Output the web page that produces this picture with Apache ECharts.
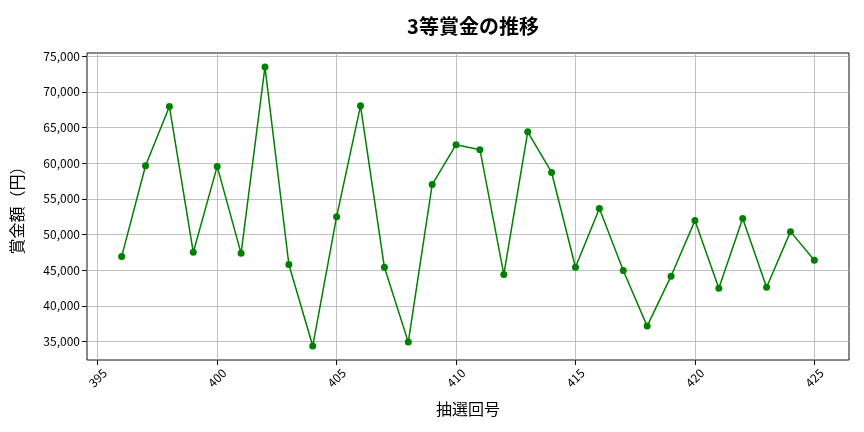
<!DOCTYPE html>
<html>
<head>
<meta charset="utf-8">
<script src="https://cdn.jsdelivr.net/npm/echarts@6/dist/echarts.min.js"></script>
<style>html,body{margin:0;padding:0;background:#fff;}#c{width:864px;height:432px;}</style>
</head>
<body>
<div id="c"></div>
<script>
const draws = [396,397,398,399,400,401,402,403,404,405,406,407,408,409,410,411,412,413,414,415,416,417,418,419,420,421,422,423,424,425];
const prizes = [46900,59650,67950,47500,59550,47350,73500,45800,34350,52500,68050,45400,34900,57000,62600,61900,44400,64400,58700,45400,53650,44950,37150,44150,51950,42450,52250,42600,50400,46400];
const xTicks = [395,400,405,410,415,420,425];
const yTicks = [35000,40000,45000,50000,55000,60000,65000,70000,75000];
const titleText = '3等賞金の推移';
const xName = '抽選回号';
const yName = '賞金額（円）';

const font = 'Noto Sans CJK JP';
const dMin = Math.min(...draws), dMax = Math.max(...draws);
const xPad = (dMax - dMin) * 0.05;
const vMin = Math.min(...prizes), vMax = Math.max(...prizes);
const yPad = (vMax - vMin) * 0.05;

const chart = echarts.init(document.getElementById('c'));
chart.setOption({
  backgroundColor: '#fff',
  animation: false,
  textStyle: { fontFamily: font },
  title: {
    text: titleText, left: 468, top: 11, textAlign: 'center',
    textStyle: { fontFamily: font, fontSize: 20, fontWeight: 'bold', color: '#000' }
  },
  grid: { left: 87, right: 15, top: 53, bottom: 72, show: true, borderColor: '#111', borderWidth: 1, backgroundColor: 'transparent' },
  xAxis: {
    type: 'value', min: dMin - xPad, max: dMax + xPad,
    name: xName, nameLocation: 'middle', nameGap: 41,
    nameTextStyle: { fontFamily: font, fontSize: 16, color: '#000', verticalAlign: 'top' },
    axisLine: { show: false },
    axisTick: { show: true, length: 5, lineStyle: { color: '#111' }, customValues: xTicks },
    axisLabel: { customValues: xTicks, rotate: 45, align: 'center', verticalAlign: 'middle', margin: 18, fontSize: 12, color: '#000', fontFamily: font },
    splitLine: { show: true, lineStyle: { color: '#b0b0b0', width: 0.8 } }
  },
  yAxis: {
    type: 'value', min: vMin - yPad, max: vMax + yPad,
    name: yName, nameLocation: 'middle', nameGap: 62,
    nameTextStyle: { fontFamily: font, fontSize: 16, color: '#000' },
    axisLine: { show: false },
    axisTick: { show: true, length: 5, lineStyle: { color: '#111' }, customValues: yTicks },
    axisLabel: { customValues: yTicks, margin: 7, fontSize: 12, color: '#000', fontFamily: font,
      formatter: v => Math.round(v).toLocaleString('en-US') },
    splitLine: { show: true, lineStyle: { color: '#b0b0b0', width: 0.8 } }
  },
  series: [{
    type: 'line',
    data: draws.map((d, i) => [d, prizes[i]]),
    symbol: 'circle', symbolSize: 7,
    lineStyle: { color: '#008000', width: 1.5 },
    itemStyle: { color: '#008000' }
  }]
});
</script>
</body>
</html>
